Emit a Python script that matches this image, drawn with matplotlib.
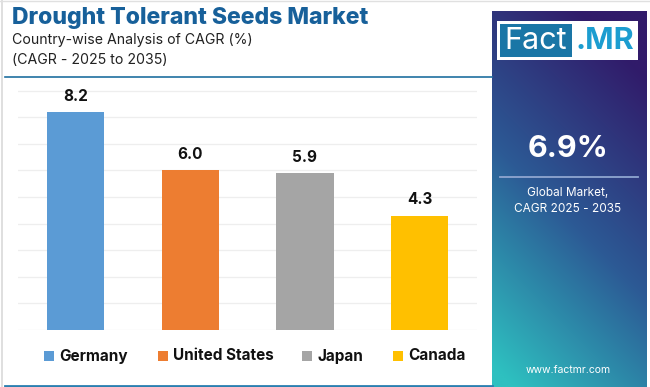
import matplotlib
matplotlib.use("Agg")
import matplotlib.pyplot as plt
import numpy as np
from matplotlib.patches import Rectangle

countries = ["Germany", "United States", "Japan", "Canada"]
cagr = [8.2, 6.0, 5.9, 4.3]
colors = ["#5b9bd5", "#ed7d31", "#a5a5a5", "#ffc000"]
title = "Drought Tolerant Seeds Market"
subtitle1 = "Country-wise Analysis of CAGR (%)"
subtitle2 = "(CAGR - 2025 to 2035)"
global_cagr = "6.9%"

W, H = 650, 387
fig = plt.figure(figsize=(W / 100, H / 100), dpi=100)
fig.patch.set_facecolor("white")

FONT = "Inter"

def fx(px):
    return px / W

def fy(py):
    return 1 - py / H

# background overlay axes
bg = fig.add_axes([0, 0, 1, 1])
bg.set_xlim(0, W)
bg.set_ylim(H, 0)
bg.axis("off")

# left light border
bg.plot([1.5, 1.5], [0, H], color="#d9d9d9", lw=1.2)
bg.plot([0, W], [0.5, 0.5], color="#e0e0e0", lw=1)

# header separator line
bg.plot([5, 492], [76.5, 76.5], color="#1f6fa0", lw=1.2)
# bottom line
bg.plot([5, 492], [385.5, 385.5], color="#2a7fb0", lw=2)

# gradient panel
px0, px1, py0, py1 = 492, 647, 11, 387
nx, ny = 120, 300
xs = np.linspace(0, 1, nx)
ys = np.linspace(0, 1, ny)
X, Y = np.meshgrid(xs, ys)
t = np.clip(0.85 * Y - 0.35 * X + 0.2, 0, 1)
c_top = np.array([0x31, 0x1b, 0x6a]) / 255
c_mid = np.array([0x2c, 0x5a, 0x95]) / 255
c_bot = np.array([0x2e, 0xc0, 0xc0]) / 255
img = np.zeros((ny, nx, 3))
for i in range(3):
    img[..., i] = np.where(t < 0.5,
                           c_top[i] + (c_mid[i] - c_top[i]) * (t / 0.5),
                           c_mid[i] + (c_bot[i] - c_mid[i]) * ((t - 0.5) / 0.5))
bg.imshow(img, extent=[px0, px1, py1, py0], aspect="auto", zorder=1, interpolation="bilinear")

# logo
bg.add_patch(Rectangle((497, 21), 141, 39, facecolor="white", edgecolor="none", zorder=2))
bg.add_patch(Rectangle((500, 24), 72, 33, facecolor="#1a76a6", edgecolor="none", zorder=3))
bg.text(536, 41, "Fact", color="white", fontsize=22, family=FONT, ha="center", va="center", zorder=4)
bg.text(605, 41, ".MR", color="#1c9dd0", fontsize=22, family=FONT, weight="bold", ha="center", va="center", zorder=4)

# panel texts
bg.text(568, 149, global_cagr, color="white", fontsize=22, family=FONT, weight="bold", ha="center", va="center", zorder=4)
bg.plot([500, 638], [177, 177], color="#8fa6d0", lw=1.3, zorder=4)
bg.text(568, 193, "Global Market,", color="white", fontsize=8.5, family=FONT, ha="center", va="center", zorder=4)
bg.text(568, 209, "CAGR 2025 - 2035", color="white", fontsize=8.5, family=FONT, ha="center", va="center", zorder=4)
bg.text(568, 370, "www.factmr.com", color="white", fontsize=7.5, family=FONT, ha="center", va="center", zorder=4)

# titles
bg.text(12, 18, title, color="#17609a", fontsize=16.6, family=FONT, weight="heavy", ha="left", va="center")
bg.text(12, 40, subtitle1, color="#222222", fontsize=10.2, family=FONT, ha="left", va="center")
bg.text(12, 60, subtitle2, color="#222222", fontsize=10.2, family=FONT, ha="left", va="center")

# bar chart axes
ax_left, ax_right = 18.2, 477
ax_bottom, ax_top = 330, 85.3
ax = fig.add_axes([fx(ax_left), fy(ax_bottom), fx(ax_right - ax_left), (ax_bottom - ax_top) / H])
ax.set_facecolor("none")
x = np.arange(len(countries))
ax.bar(x, cagr, width=0.5, color=colors, zorder=3)
for xi, v in zip(x, cagr):
    ax.annotate(f"{v:.1f}", (xi, v), xytext=(0, 6), textcoords="offset points",
                ha="center", va="bottom", fontsize=11, weight="bold", family=FONT, color="#111111")
ax.set_xlim(-0.5, 3.5)
ax.set_ylim(0, 9.2)
ax.set_yticks(np.arange(0, 10, 1))
ax.grid(axis="y", color="#eeeeee", lw=0.9, zorder=0)
ax.tick_params(left=False, bottom=False, labelleft=False, labelbottom=False)
for s in ax.spines.values():
    s.set_visible(False)

# legend
leg_sq = [44, 158, 302, 393]
for sx, c, name in zip(leg_sq, colors, countries):
    bg.add_patch(Rectangle((sx, 351), 10, 10, facecolor=c, edgecolor="none"))
    bg.text(sx + 15, 356, name, color="#111111", fontsize=11, family=FONT, weight="bold", ha="left", va="center")

fig.savefig("out.png", dpi=100, facecolor="white")
